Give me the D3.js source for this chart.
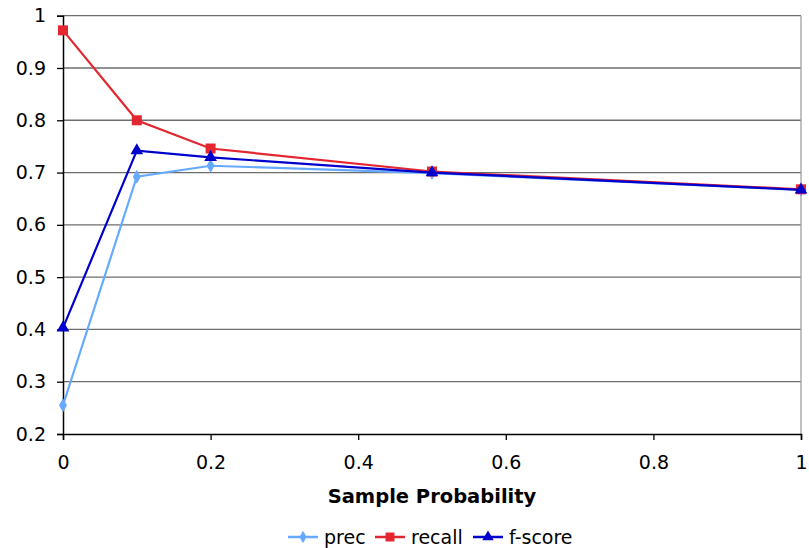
<!DOCTYPE html>
<html>
<head>
<meta charset="utf-8">
<script src="https://cdn.jsdelivr.net/npm/d3@7"></script>
<style>
  body { margin: 0; background: #fff; }
  text { font-family: "DejaVu Sans", Verdana, sans-serif; fill: #000; }
</style>
</head>
<body>
<div id="chart"></div>
<script>
const xValues = [0, 0.1, 0.2, 0.5, 1];
const prec = [0.255, 0.692, 0.713, 0.699, 0.667];
const recall = [0.972, 0.800, 0.746, 0.702, 0.668];
const fscore = [0.403, 0.742, 0.729, 0.700, 0.667];
const xTicks = [0, 0.2, 0.4, 0.6, 0.8, 1];
const yTicks = [0.2, 0.3, 0.4, 0.5, 0.6, 0.7, 0.8, 0.9, 1];

const series = [
  {name: "prec", values: prec, color: "#66aaff", shape: d3.symbolDiamond, size: 55},
  {name: "recall", values: recall, color: "#e3262f", shape: d3.symbolSquare, size: 100},
  {name: "f-score", values: fscore, color: "#0000cc", shape: d3.symbolTriangle, size: 70}
];

const W = 809, H = 548;
const margin = {top: 15.7, right: 8, bottom: 114, left: 63};
const width = W - margin.left - margin.right;
const height = H - margin.top - margin.bottom;

const svg = d3.select("#chart").append("svg")
  .attr("width", W)
  .attr("height", H);

const g = svg.append("g")
  .attr("transform", `translate(${margin.left},${margin.top})`);

const x = d3.scaleLinear().domain([0, 1]).range([0, width]);
const y = d3.scaleLinear().domain([0.2, 1]).range([height, 0]);

// horizontal gridlines
g.selectAll(".grid")
  .data(yTicks.slice(1))
  .enter().append("line")
  .attr("x1", 0).attr("x2", width)
  .attr("y1", d => y(d)).attr("y2", d => y(d))
  .attr("stroke", "#6e6e6e")
  .attr("stroke-width", 1.3);

// right border
g.append("line")
  .attr("x1", width).attr("x2", width)
  .attr("y1", 0).attr("y2", height)
  .attr("stroke", "#a0a0a0")
  .attr("stroke-width", 1.3);

const xAxis = g.append("g")
  .attr("transform", `translate(0,${height})`)
  .call(d3.axisBottom(x).tickValues(xTicks).tickFormat(d3.format("")).tickSize(6).tickPadding(16));

const yAxis = g.append("g")
  .call(d3.axisLeft(y).tickValues(yTicks).tickFormat(d3.format("")).tickSize(6).tickPadding(11));

[xAxis, yAxis].forEach(a => {
  a.select(".domain").attr("stroke", "#000").attr("stroke-width", 1.5);
  a.selectAll(".tick line").attr("stroke", "#000").attr("stroke-width", 1.3);
  a.selectAll("text").style("font-size", "19px").style("font-family", '"DejaVu Sans", Verdana, sans-serif');
});

const line = d3.line()
  .x((d, i) => x(xValues[i]))
  .y(d => y(d));

series.forEach(s => {
  g.append("path")
    .datum(s.values)
    .attr("fill", "none")
    .attr("stroke", s.color)
    .attr("stroke-width", 2.2)
    .attr("d", line);
  g.selectAll(null)
    .data(s.values)
    .enter().append("path")
    .attr("transform", (d, i) => `translate(${x(xValues[i])},${y(d)})`)
    .attr("d", d3.symbol().type(s.shape).size(s.size))
    .attr("fill", s.color);
});

svg.append("text")
  .attr("x", 432)
  .attr("y", 503)
  .attr("text-anchor", "middle")
  .style("font-size", "19.5px")
  .style("font-weight", "bold")
  .text("Sample Probability");

const legendX = [288, 375, 473];
const legend = svg.selectAll(".legend")
  .data(series)
  .enter().append("g")
  .attr("transform", (d, i) => `translate(${legendX[i]},537)`);

legend.append("line")
  .attr("x1", 0).attr("x2", 30)
  .attr("stroke", d => d.color)
  .attr("stroke-width", 2.5);
legend.append("path")
  .attr("transform", "translate(15,0)")
  .attr("d", d => d3.symbol().type(d.shape).size(d.size * 0.8)())
  .attr("fill", d => d.color);
legend.append("text")
  .attr("x", 36)
  .attr("y", 6.5)
  .style("font-size", "19px")
  .text(d => d.name);
</script>
</body>
</html>
